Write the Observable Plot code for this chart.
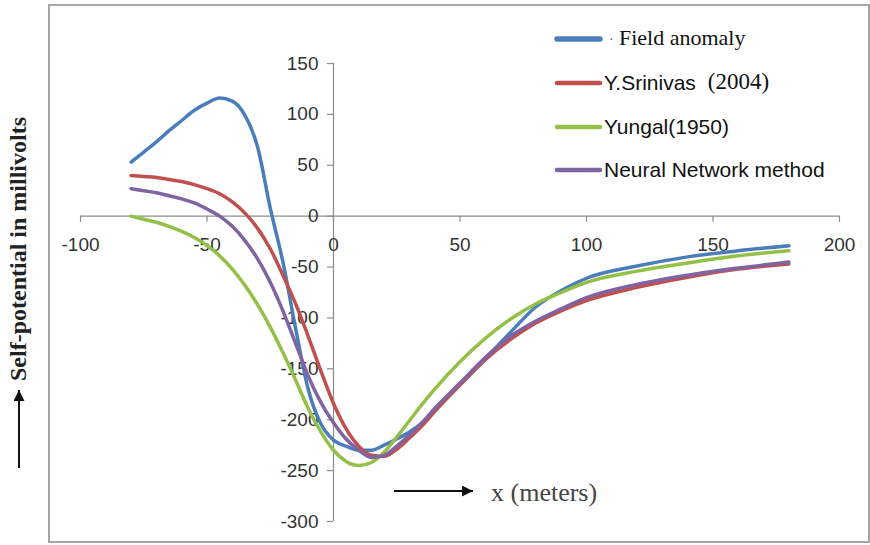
<!DOCTYPE html>
<html>
<head>
<meta charset="utf-8">
<script src="https://cdn.jsdelivr.net/npm/d3@7"></script>
<script src="https://cdn.jsdelivr.net/npm/@observablehq/plot@0.6"></script>
<style>
  html, body { margin: 0; padding: 0; background: #fff; }
  #chart svg { display: block; }
</style>
</head>
<body>
<div id="chart"></div>
<script>
// ---- data ----
const xs = [-80,-75,-70,-65,-60,-55,-50,-45,-40,-35,-30,-25,-20,-15,-10,-5,0,5,10,15,20,25,30,35,40,50,60,70,80,90,100,120,140,160,180];
const fieldAnomaly = [53,63,73,84,94,104,111,116,113,99,68,8,-45,-110,-170,-204,-220,-226,-230,-230,-225,-219,-212,-203,-190,-165,-140,-114,-89,-73,-61,-49,-40,-34,-29];
const srinivas2004 = [40,39,38,36,34,31,27,22,14,3,-12,-32,-58,-86,-118,-152,-184,-209,-226,-235,-236,-229,-218,-206,-192,-166,-141,-121,-105,-93,-83,-70,-60,-52,-47];
const yungal1950 = [0,-3,-6,-10,-15,-21,-29,-39,-52,-68,-87,-109,-134,-161,-189,-212,-230,-241,-245,-242,-232,-217,-201,-185,-170,-143,-120,-101,-86,-75,-65,-54,-46,-39,-34];
const neuralNetwork = [27,25,23,20,17,13,7,0,-10,-24,-42,-65,-93,-125,-157,-183,-203,-219,-230,-237,-235,-226,-215,-203,-189,-164,-139,-118,-103,-91,-80,-67,-58,-51,-45];

const seriesNames = ["Field anomaly", "Y.Srinivas  (2004)", "Yungal(1950)", "Neural Network method"];
const seriesColors = ["#4a7ebb", "#c0504d", "#93c047", "#8064a2"];
const seriesValues = [fieldAnomaly, srinivas2004, yungal1950, neuralNetwork];

const xTicks = [-100, -50, 0, 50, 100, 150, 200];
const yTicks = [-300, -250, -200, -150, -100, -50, 0, 50, 100, 150];

// tidy table
const rows = [];
seriesNames.forEach((name, i) => {
  xs.forEach((x, j) => rows.push({series: name, order: i, x, y: seriesValues[i][j]}));
});

const axisColor = "#8c8c8c";
const tickFont = "Liberation Sans, Arial, sans-serif";
const serifFont = "Liberation Serif, Times New Roman, serif";

const marks = [
  Plot.ruleY([0], {x1: xTicks[0], x2: xTicks[xTicks.length - 1], stroke: axisColor, strokeWidth: 1.2}),
  Plot.ruleX([0], {y1: yTicks[0], y2: yTicks[yTicks.length - 1], stroke: axisColor, strokeWidth: 1.2}),
  Plot.ruleX(xTicks, {x: d => d, y1: 0, y2: -6, stroke: axisColor, strokeWidth: 1.2}),
  Plot.ruleY(yTicks, {y: d => d, x1: 0, x2: -2.4, stroke: axisColor, strokeWidth: 1.2}),
  Plot.text(xTicks, {x: d => d, y: 0, text: d => String(d), dy: 29, fontSize: 19, fill: "#333", fontFamily: tickFont}),
  Plot.text(yTicks, {x: 0, y: d => d, text: d => String(d), textAnchor: "end", dx: -15, fontSize: 19, fill: "#333", fontFamily: tickFont}),
];
seriesNames.forEach((name, i) => {
  marks.push(Plot.line(rows.filter(r => r.series === name), {
    x: "x", y: "y", stroke: seriesColors[i], strokeWidth: 3.5, curve: "monotone-x"
  }));
});

const chart = Plot.plot({
  width: 870,
  height: 545,
  marginLeft: 80,
  marginRight: 31,
  marginTop: 63,
  marginBottom: 24,
  x: {domain: [xTicks[0], xTicks[xTicks.length - 1]], axis: null},
  y: {domain: [yTicks[0], yTicks[yTicks.length - 1]], axis: null},
  style: {background: "#fff", overflow: "visible"},
  marks
});

document.getElementById("chart").appendChild(chart);

// ---- annotations: outer frame, axis titles, legend ----
const svg = d3.select(chart);
svg.insert("rect", ":first-child")
  .attr("x", 49).attr("y", 5).attr("width", 820).attr("height", 537)
  .attr("fill", "none").attr("stroke", "#a6a6a6").attr("stroke-width", 2);

const defs = svg.append("defs");
defs.append("marker").attr("id", "arrowhead").attr("viewBox", "0 0 10 10")
  .attr("refX", 10).attr("refY", 5).attr("markerUnits", "userSpaceOnUse")
  .attr("markerWidth", 13).attr("markerHeight", 11)
  .attr("orient", "auto")
  .append("path").attr("d", "M0,0 L10,5 L0,10 Z").attr("fill", "#111");

// y-axis title with arrow
svg.append("line").attr("x1", 19).attr("y1", 468).attr("x2", 19).attr("y2", 390)
  .attr("stroke", "#111").attr("stroke-width", 2).attr("marker-end", "url(#arrowhead)");
svg.append("text")
  .attr("transform", "translate(20,249) rotate(-90)")
  .attr("text-anchor", "middle").attr("dominant-baseline", "middle")
  .attr("font-family", serifFont)
  .attr("font-size", 24).attr("font-weight", "bold").attr("fill", "#222")
  .text("Self-potential in millivolts");

// x-axis title with arrow
svg.append("line").attr("x1", 394).attr("y1", 491).attr("x2", 473).attr("y2", 491)
  .attr("stroke", "#111").attr("stroke-width", 2).attr("marker-end", "url(#arrowhead)");
svg.append("text")
  .attr("x", 491).attr("y", 495)
  .attr("text-anchor", "start").attr("dominant-baseline", "middle")
  .attr("font-family", serifFont)
  .attr("font-size", 26).attr("fill", "#444")
  .text("x (meters)");

// legend
const legendY = [39, 83, 127, 170];
const legend = svg.append("g").attr("text-anchor", "start");
seriesNames.forEach((name, i) => {
  legend.append("line").attr("x1", 557).attr("x2", 600)
    .attr("y1", legendY[i]).attr("y2", legendY[i])
    .attr("stroke", seriesColors[i]).attr("stroke-width", i === 0 ? 5.5 : 4.5)
    .attr("stroke-linecap", "round");
});
legend.append("text").attr("x", 609).attr("y", legendY[0] + 2).attr("text-anchor", "start").attr("dominant-baseline", "middle")
  .attr("font-family", serifFont).attr("font-size", 14).attr("fill", "#666").text("·");
legend.append("text").attr("x", 619).attr("y", legendY[0] + 1).attr("text-anchor", "start").attr("dominant-baseline", "middle")
  .attr("font-family", serifFont).attr("font-size", 22).attr("fill", "#111")
  .text(seriesNames[0]);
const t2 = legend.append("text").attr("x", 604).attr("y", legendY[1] + 1).attr("text-anchor", "start").attr("dominant-baseline", "middle").attr("fill", "#111");
t2.append("tspan").attr("font-family", tickFont).attr("font-size", 21).text("Y.Srinivas");
t2.append("tspan").attr("dx", 12).attr("font-family", serifFont).attr("font-size", 23).text("(2004)");
[2, 3].forEach(i => {
  legend.append("text").attr("x", 604).attr("y", legendY[i] + 1).attr("text-anchor", "start").attr("dominant-baseline", "middle")
    .attr("font-family", tickFont).attr("font-size", 21).attr("fill", "#111")
    .text(seriesNames[i]);
});
</script>
</body>
</html>
